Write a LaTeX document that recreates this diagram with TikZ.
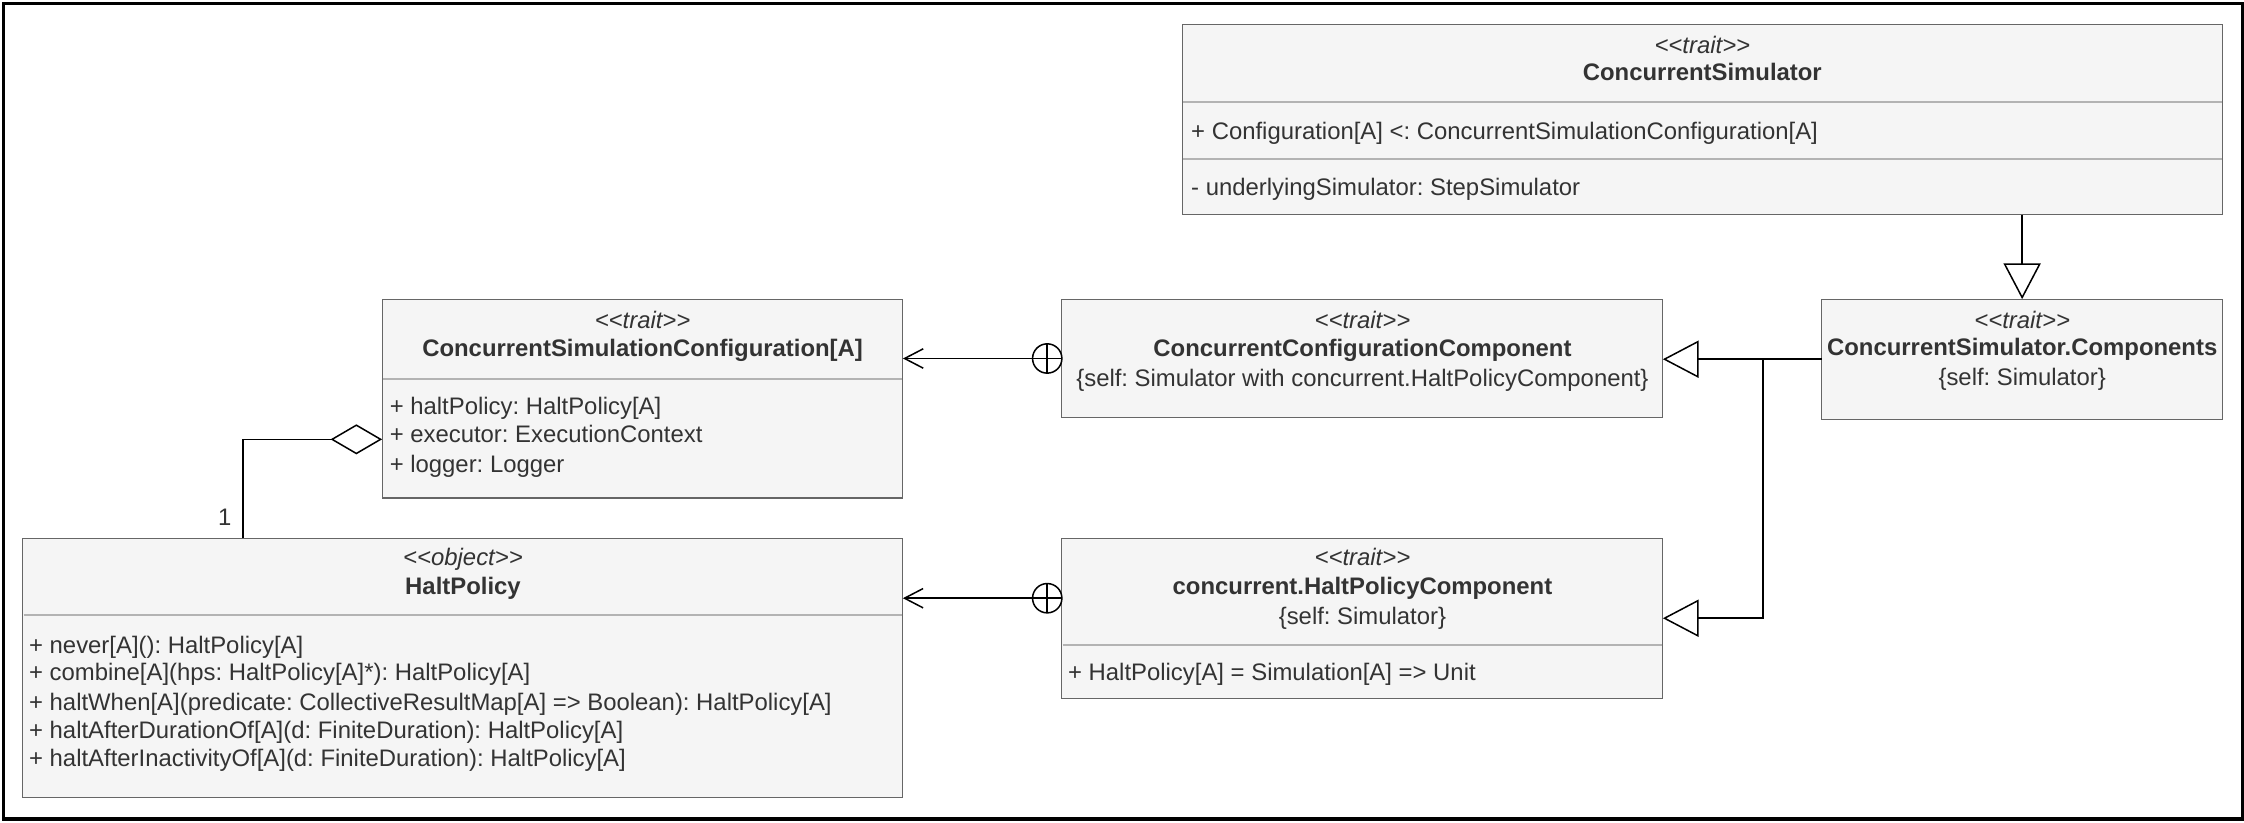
\documentclass[tikz,border=0pt]{standalone}
\usepackage{fontspec}
\setmainfont{Liberation Sans}
\usepackage{tikz}
\usetikzlibrary{arrows.meta}
\definecolor{boxfill}{HTML}{F5F5F5}
\definecolor{boxline}{HTML}{666666}
\definecolor{divline}{HTML}{B3B3B3}
\definecolor{txt}{HTML}{333333}
\newcommand{\stereo}[1]{\textit{<\kern0pt<#1>\kern0pt>}}
\frenchspacing

\begin{document}
\begin{tikzpicture}[x=0.02cm,y=-0.02cm,
    font=\fontsize{9.5}{11.4}\selectfont,
    umlbox/.style={draw=boxline,fill=boxfill,line width=0.4pt,inner sep=0,outer sep=0,anchor=north west},
    lbl/.style={text=txt,inner sep=0,text height=1.6ex,text depth=0.45ex},
    attr/.style={lbl,anchor=west},
    divider/.style={draw=divline,line width=0.8pt},
    nestcircle/.style={circle,draw,line width=0.6pt,minimum size=0.41cm,inner sep=0,outer sep=0,anchor=east},
    inherit/.style={line width=0.6pt,-{Triangle[open,length=0.5cm,width=0.52cm]}},
    nest/.style={line width=0.6pt,-{Straight Barb[length=0.26cm,width=0.27cm]}},
    aggr/.style={line width=0.6pt,-{Diamond[open,length=0.72cm,width=0.42cm]}}]
    \useasboundingbox (0,0) rectangle (1568,574.4);
    \draw[line width=1.4pt] (2.4,2.4) rectangle (1567,572.3);

    % boxes
    \node[umlbox,minimum width=14.54cm,minimum height=2.66cm] (csim) at (826,17) {};
    \node[umlbox,minimum width=7.28cm,minimum height=2.78cm] (cfg) at (267,209) {};
    \node[umlbox,minimum width=8.40cm,minimum height=1.66cm] (ccc) at (742,209) {};
    \node[umlbox,minimum width=5.60cm,minimum height=1.68cm] (comp) at (1273,209) {};
    \node[umlbox,minimum width=12.30cm,minimum height=3.62cm] (halt) at (16,376) {};
    \node[umlbox,minimum width=8.40cm,minimum height=2.24cm] (hpc) at (742,376) {};

    % ConcurrentSimulator
    \node[lbl] (csimst) at (1189.5,32) {\stereo{trait}};
    \node[lbl] (csimname) at (1189.5,51) {\bfseries ConcurrentSimulator};
    \draw[divider] (826.5,71) -- (1552.5,71);
    \node[attr] (csimattr) at (832,92) {+ Configuration[A] <: ConcurrentSimulationConfiguration[A]};
    \draw[divider] (826.5,111) -- (1552.5,111);
    \node[attr] (csimfield) at (832,131) {- underlyingSimulator: StepSimulator};

    % ConcurrentSimulationConfiguration[A]
    \node[lbl] (cfgst) at (449,224) {\stereo{trait}};
    \node[lbl] (cfgname) at (449,244) {\bfseries ConcurrentSimulationConfiguration[A]};
    \draw[divider] (267.5,264.5) -- (630.5,264.5);
    \node[attr] (cfgone) at (272,284) {+ haltPolicy: HaltPolicy[A]};
    \node[attr] (cfgtwo) at (272,304) {+ executor: ExecutionContext};
    \node[attr] (cfgthree) at (272,325) {+ logger: Logger};

    % ConcurrentConfigurationComponent
    \node[lbl] (cccst) at (952,224) {\stereo{trait}};
    \node[lbl] (cccname) at (952,244) {\bfseries ConcurrentConfigurationComponent};
    \node[lbl] (cccself) at (952,265) {\{self: Simulator with concurrent.HaltPolicyComponent\}};

    % ConcurrentSimulator.Components
    \node[lbl] (compst) at (1413,224) {\stereo{trait}};
    \node[lbl] (compname) at (1413,243) {\bfseries ConcurrentSimulator.Components};
    \node[lbl] (compself) at (1413,264) {\{self: Simulator\}};

    % HaltPolicy
    \node[lbl] (haltst) at (323.5,390) {\stereo{object}};
    \node[lbl] (haltname) at (323.5,410) {\bfseries HaltPolicy};
    \draw[divider] (16.5,430) -- (630.5,430);
    \node[attr] (haltone) at (20,451) {+ never[A](): HaltPolicy[A]};
    \node[attr] (halttwo) at (20,470) {+ combine[A](hps: HaltPolicy[A]*): HaltPolicy[A]};
    \node[attr] (haltthree) at (20,491) {+ haltWhen[A](predicate: CollectiveResultMap[A] => Boolean): HaltPolicy[A]};
    \node[attr] (haltfour) at (20,511) {+ haltAfterDurationOf[A](d: FiniteDuration): HaltPolicy[A]};
    \node[attr] (haltfive) at (20,530) {+ haltAfterInactivityOf[A](d: FiniteDuration): HaltPolicy[A]};

    % concurrent.HaltPolicyComponent
    \node[lbl] (hpcst) at (952,390) {\stereo{trait}};
    \node[lbl] (hpcname) at (952,410) {\bfseries concurrent.HaltPolicyComponent};
    \node[lbl] (hpcself) at (952,431) {\{self: Simulator\}};
    \draw[divider] (742.5,451) -- (1161.5,451);
    \node[attr] (hpcattr) at (746,470) {+ HaltPolicy[A] = Simulation[A] => Unit};

    % connectors
    \draw[inherit] (comp.north |- csim.south) -- (comp.north);
    \draw[inherit] (comp.west) -- (comp.west -| ccc.east);
    \draw[inherit] (comp.west) -- ++(-41,0) |- (hpc.east);

    \node[nestcircle] (nestcfg) at (ccc.west) {};
    \draw[line width=0.6pt] (nestcfg.north) -- (nestcfg.south);
    \draw[nest] (nestcfg.east) -- (nestcfg.east -| cfg.east);
    \node[nestcircle] (nesthalt) at ([yshift=0.28cm]hpc.west) {};
    \draw[line width=0.6pt] (nesthalt.north) -- (nesthalt.south);
    \draw[nest] (nesthalt.east) -- (nesthalt.east -| halt.east);

    \draw[aggr] ([xshift=3.08cm]halt.north west) |- ([yshift=-1.96cm]cfg.north west);
    \node[lbl] (multone) at (157,362) {1};
\end{tikzpicture}
\end{document}
